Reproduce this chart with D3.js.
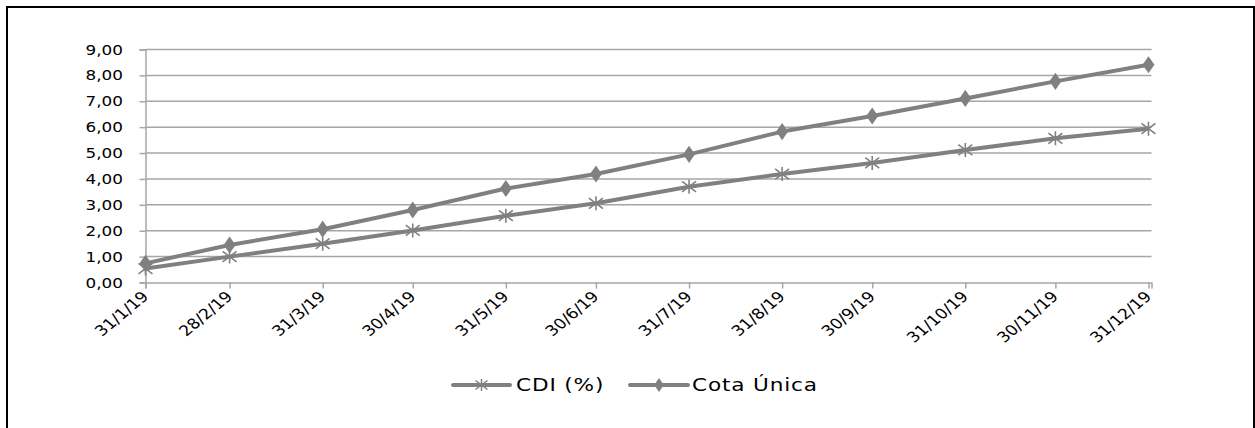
<!DOCTYPE html>
<html>
<head>
<meta charset="utf-8">
<script src="https://cdn.jsdelivr.net/npm/d3@7"></script>
<style>
  html, body { margin: 0; padding: 0; background: #fff; }
  svg { display: block; }
  text { font-family: "DejaVu Sans", Verdana, sans-serif; fill: #000; }
</style>
</head>
<body>
<svg id="chart" width="1255" height="428"></svg>
<script>
// ---- data ----
const dates = ["2019-01-31","2019-02-28","2019-03-31","2019-04-30","2019-05-31","2019-06-30",
               "2019-07-31","2019-08-31","2019-09-30","2019-10-31","2019-11-30","2019-12-31"];
const tickLabels = ["31/1/19","28/2/19","31/3/19","30/4/19","31/5/19","30/6/19",
                    "31/7/19","31/8/19","30/9/19","31/10/19","30/11/19","31/12/19"];
const cdi  = [0.54, 1.00, 1.50, 2.01, 2.58, 3.06, 3.70, 4.19, 4.62, 5.12, 5.57, 5.94];
const cota = [0.74, 1.45, 2.06, 2.80, 3.63, 4.19, 4.95, 5.83, 6.43, 7.11, 7.77, 8.41];
const yTicks = [0,1,2,3,4,5,6,7,8,9];
const seriesNames = ["CDI (%)", "Cota Única"];

// ---- setup ----
const svg = d3.select("#chart");
const parse = d3.timeParse("%Y-%m-%d");
const dd = dates.map(parse);
const K = 1.2; // horizontal text stretch
const fmt = v => d3.format(".2f")(v).replace(".", ",");

const x = d3.scaleTime()
  .domain([parse("2019-01-31"), parse("2020-01-01")])
  .range([145.5, 1151.5]);
const y = d3.scaleLinear().domain([0, 9]).range([282.5, 49.5]);

const grey = "#808080";
const gridCol = "#a6a6a6";

// border
svg.append("rect").attr("x", 7).attr("y", 7).attr("width", 1247).attr("height", 460)
  .attr("fill", "none").attr("stroke", "#000").attr("stroke-width", 2);

// gridlines
svg.append("g").selectAll("line").data(yTicks.filter(d => d > 0)).join("line")
  .attr("x1", x.range()[0]).attr("x2", x.range()[1])
  .attr("y1", d => y(d)).attr("y2", d => y(d))
  .attr("stroke", gridCol).attr("stroke-width", 1.5);

// y axis
const yAxis = svg.append("g").attr("transform", `translate(${x.range()[0]},0)`)
  .call(d3.axisLeft(y).tickValues(yTicks).tickSize(6).tickFormat(() => ""));
yAxis.select(".domain").attr("stroke", gridCol).attr("stroke-width", 1.5);
yAxis.selectAll(".tick line").attr("stroke", gridCol).attr("stroke-width", 1.5);

svg.append("g").selectAll("text").data(yTicks).join("text")
  .attr("transform", d => `translate(123,${y(d)}) scale(${K},1)`)
  .attr("dy", "0.36em")
  .attr("text-anchor", "end")
  .style("font-size", "14px")
  .text(fmt);

// x axis
const xAxis = svg.append("g").attr("transform", `translate(0,${y(0)})`)
  .call(d3.axisBottom(x).tickValues(dd).tickSize(6).tickFormat(() => ""));
xAxis.select(".domain").attr("stroke", gridCol).attr("stroke-width", 1.5);
xAxis.selectAll(".tick line").attr("stroke", gridCol).attr("stroke-width", 1.5);

svg.append("g").selectAll("text").data(dd).join("text")
  .attr("transform", d => `translate(${x(d) + 4},${y(0) + 15}) scale(${K},1) rotate(-45)`)
  .attr("text-anchor", "end")
  .style("font-size", "14.5px")
  .text((d, i) => tickLabels[i]);

// lines
const line = d3.line().x((d, i) => x(dd[i])).y(d => y(d));
[cdi, cota].forEach(s => {
  svg.append("path").datum(s).attr("d", line)
    .attr("fill", "none").attr("stroke", grey).attr("stroke-width", 4)
    .attr("stroke-linejoin", "round");
});

// markers
function asterisk(r) {
  const p = d3.path();
  p.moveTo(-r, -r * 0.75); p.lineTo(r, r * 0.75);
  p.moveTo(-r, r * 0.75); p.lineTo(r, -r * 0.75);
  p.moveTo(0, -r); p.lineTo(0, r);
  return p.toString();
}
svg.append("g").selectAll("path").data(cdi).join("path")
  .attr("transform", (d, i) => `translate(${x(dd[i])},${y(d)})`)
  .attr("d", asterisk(7))
  .attr("fill", "none").attr("stroke", grey).attr("stroke-width", 1.6);

const diamond = d3.symbol().type(d3.symbolDiamond).size(85);
svg.append("g").selectAll("path").data(cota).join("path")
  .attr("transform", (d, i) => `translate(${x(dd[i])},${y(d)}) scale(1.2,1)`)
  .attr("d", diamond)
  .attr("fill", grey);

// legend
const legY = 385;
const leg = [
  { name: seriesNames[0], x0: 453, x1: 510, tx: 516, mark: "ast" },
  { name: seriesNames[1], x0: 630, x1: 688, tx: 692, mark: "dia" }
];
leg.forEach(l => {
  svg.append("line").attr("x1", l.x0).attr("x2", l.x1).attr("y1", legY).attr("y2", legY)
    .attr("stroke", grey).attr("stroke-width", 4).attr("stroke-linecap", "round");
  const cx = (l.x0 + l.x1) / 2;
  if (l.mark === "ast") {
    svg.append("path").attr("transform", `translate(${cx},${legY})`).attr("d", asterisk(6))
      .attr("fill", "none").attr("stroke", grey).attr("stroke-width", 1.5);
  } else {
    svg.append("path").attr("transform", `translate(${cx},${legY}) scale(1.2,1)`)
      .attr("d", d3.symbol().type(d3.symbolDiamond).size(55)).attr("fill", grey);
  }
  svg.append("text").attr("transform", `translate(${l.tx},${legY}) scale(${K},1)`)
    .attr("dy", "0.36em").style("font-size", "18px").style("letter-spacing", "0.7px")
    .text(l.name);
});
</script>
</body>
</html>
